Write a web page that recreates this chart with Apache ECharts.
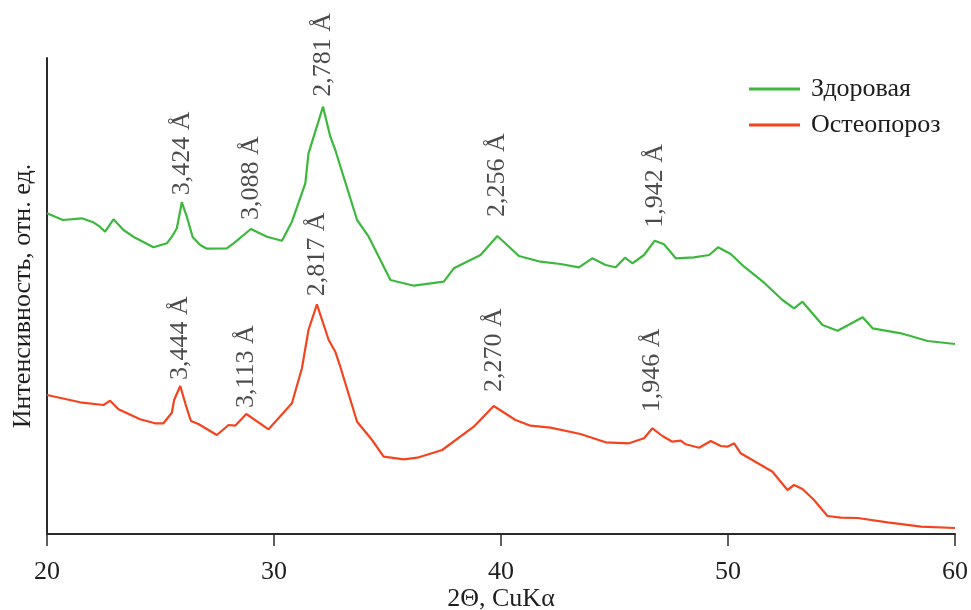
<!DOCTYPE html>
<html>
<head>
<meta charset="utf-8">
<script src="https://cdn.jsdelivr.net/npm/echarts@6/dist/echarts.min.js"></script>
<style>
  html, body { margin: 0; padding: 0; background: #fff; }
  #chart { width: 971px; height: 610px; }
</style>
</head>
<body>
<div id="chart"></div>
<script>
// X-ray diffraction patterns of bone tissue: 2θ (CuKα) vs. intensity, arbitrary units
const healthyTheta = [20.0, 20.7, 21.53, 22.04, 22.33, 22.56, 22.93, 23.37, 23.8, 24.69, 25.28, 25.5, 25.72, 25.94, 26.16, 26.42, 26.75, 27.04, 27.92, 28.22, 28.98, 29.69, 30.35, 30.79, 31.38, 31.52, 32.16, 32.48, 32.7, 33.66, 34.17, 35.13, 36.16, 37.48, 37.92, 39.1, 39.84, 40.79, 41.74, 42.62, 43.43, 44.02, 44.61, 45.05, 45.46, 45.79, 46.3, 46.77, 47.18, 47.7, 48.5, 49.17, 49.56, 50.12, 50.71, 51.59, 52.4, 52.91, 53.28, 54.16, 54.83, 55.93, 56.37, 57.62, 58.8, 60.0];
const healthyIntensity = [320.7, 314, 315.7, 311.7, 307.3, 302.3, 314.7, 304, 297.3, 286.7, 290.7, 297.3, 305.7, 331.7, 317.3, 296.7, 289, 285.3, 285.7, 290.7, 305, 297.3, 293.3, 312.3, 350.7, 380.7, 427.3, 397.3, 384, 314, 297.3, 254, 248.3, 252.3, 265.7, 279, 298, 278, 272.3, 270, 266.7, 275.7, 269, 266.7, 276.3, 270.7, 279, 293.3, 289.7, 275.7, 276.7, 279, 286.7, 280, 267.3, 251.3, 234, 225.7, 232.3, 209, 203.3, 216.7, 205.7, 200.7, 193, 190];

const osteoTheta = [20.0, 21.46, 22.49, 22.78, 23.15, 24.1, 24.76, 25.13, 25.5, 25.6, 25.87, 26.09, 26.34, 26.67, 27.48, 28.0, 28.29, 28.78, 29.76, 30.79, 31.23, 31.52, 31.89, 32.41, 32.7, 32.92, 33.66, 34.32, 34.83, 35.72, 36.31, 37.41, 38.8, 39.68, 40.64, 41.3, 42.18, 43.5, 44.61, 45.64, 46.3, 46.67, 47.11, 47.55, 47.92, 48.14, 48.73, 49.24, 49.68, 49.98, 50.27, 50.56, 51.96, 52.62, 52.91, 53.28, 53.79, 54.38, 54.97, 55.71, 57.03, 58.5, 60.0];
const osteoIntensity = [139, 131.7, 129, 133.3, 124.7, 114.7, 110.7, 110.7, 121.3, 134, 148, 130.7, 113, 110, 99, 109, 108.3, 120, 104.7, 130.7, 165.7, 204, 229.7, 194, 182.3, 167.3, 112.3, 94, 77.3, 74.7, 76.3, 84, 107.3, 128, 114, 108.3, 106.3, 100, 91.7, 90.7, 95.7, 105.7, 98, 92.3, 93.3, 89.7, 86.3, 93, 88, 87.3, 90.7, 80.7, 62.3, 44, 49, 45, 34, 18, 16.3, 16, 11.7, 7.3, 6];

// Reflections with their interplanar spacings
const healthyPeakTheta = [25.94, 28.98, 32.16, 39.84, 46.77];
const healthyPeakIntensity = [331.7, 305, 427.3, 298, 293.3];
const healthyPeakLabels = ['3,424 Å', '3,088 Å', '2,781 Å', '2,256 Å', '1,942 Å'];

const osteoPeakTheta = [25.87, 28.78, 31.89, 39.68, 46.67];
const osteoPeakIntensity = [148, 120, 229.7, 128, 105.7];
const osteoPeakLabels = ['3,444 Å', '3,113 Å', '2,817 Å', '2,270 Å', '1,946 Å'];

const xTicks = [20, 30, 40, 50, 60];
const seriesNames = ['Здоровая', 'Остеопороз'];

const FONT = "'Liberation Serif', 'Times New Roman', serif";
const FS = 26;
const TEXT = '#1e1e1e';
const GREEN = '#3cb83c';
const RED = '#f4441f';

const zip = (xs, ys) => xs.map((x, i) => [x, ys[i]]);

function peakSeries(thetas, values, labels, gaps) {
  return {
    type: 'scatter',
    silent: true,
    symbolSize: 0.1,
    itemStyle: { color: 'transparent' },
    z: 5,
    data: thetas.map((t, i) => ({
      value: [t, values[i]],
      label: {
        show: true,
        formatter: labels[i],
        position: 'top',
        distance: gaps[i],
        rotate: 90,
        align: 'left',
        verticalAlign: 'middle',
        color: TEXT,
        fontFamily: FONT,
        fontSize: FS
      }
    }))
  };
}

const chart = echarts.init(document.getElementById('chart'), null, { renderer: 'canvas' });
chart.setOption({
  animation: false,
  backgroundColor: '#fff',
  grid: { left: 47, right: 16, top: 58, bottom: 76, outerBoundsMode: 'none', containLabel: false },
  legend: {
    data: seriesNames,
    orient: 'vertical',
    left: 749,
    top: 76,
    padding: 0,
    icon: 'rect',
    itemWidth: 51,
    itemHeight: 3,
    itemGap: 10,
    textStyle: { color: TEXT, fontFamily: FONT, fontSize: FS, padding: [0, 0, 0, 6] }
  },
  xAxis: {
    type: 'value',
    min: xTicks[0],
    max: xTicks[xTicks.length - 1],
    interval: 10,
    name: '2Θ, CuKα',
    nameLocation: 'middle',
    nameGap: 52,
    nameMoveOverlap: false,
    nameTextStyle: { color: TEXT, fontFamily: FONT, fontSize: FS },
    axisLine: { show: true, lineStyle: { color: '#2a2a2a', width: 2 } },
    axisTick: { show: true, length: 12, lineStyle: { color: '#2a2a2a', width: 1.5 } },
    axisLabel: { color: TEXT, fontFamily: FONT, fontSize: FS, margin: 25 },
    splitLine: { show: false }
  },
  yAxis: {
    type: 'value',
    min: 0,
    max: 476,
    name: 'Интенсивность, отн. ед.',
    nameLocation: 'middle',
    nameGap: 11,
    nameMoveOverlap: false,
    nameTextStyle: { color: TEXT, fontFamily: FONT, fontSize: FS },
    axisLine: { show: true, lineStyle: { color: '#2a2a2a', width: 2 } },
    axisTick: { show: false },
    axisLabel: { show: false },
    splitLine: { show: false }
  },
  series: [
    {
      name: seriesNames[0],
      type: 'line',
      symbol: 'none',
      color: GREEN,
      lineStyle: { color: GREEN, width: 2.2 },
      data: zip(healthyTheta, healthyIntensity)
    },
    {
      name: seriesNames[1],
      type: 'line',
      symbol: 'none',
      color: RED,
      lineStyle: { color: RED, width: 2.2 },
      data: zip(osteoTheta, osteoIntensity)
    },
    peakSeries(healthyPeakTheta, healthyPeakIntensity, healthyPeakLabels, [7, 9, 10, 19, 13]),
    peakSeries(osteoPeakTheta, osteoPeakIntensity, osteoPeakLabels, [6, 6, 8, 14, 16])
  ]
});
</script>
</body>
</html>
